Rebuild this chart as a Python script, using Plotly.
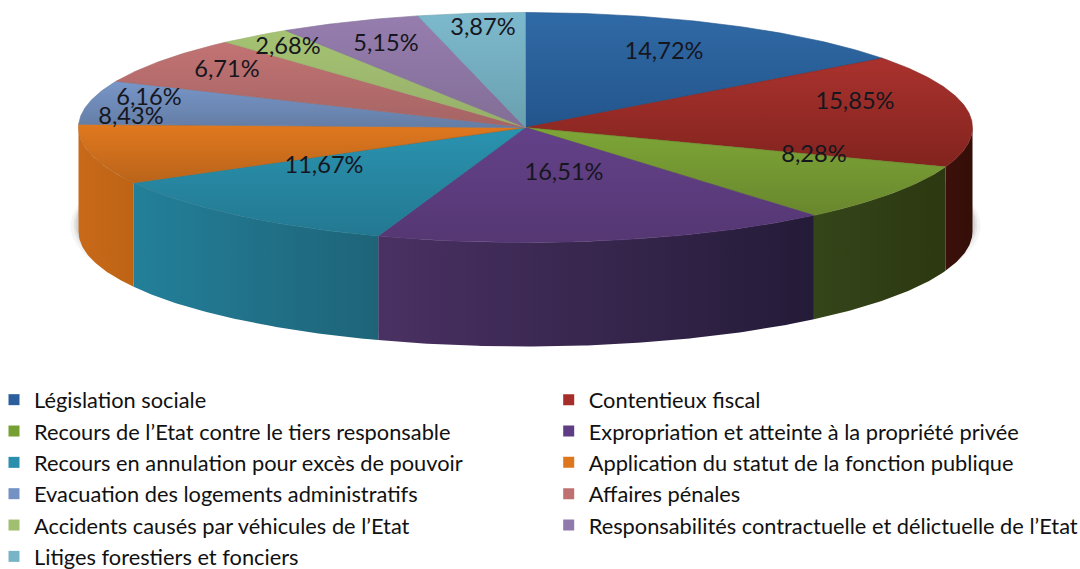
import numpy as np
import plotly.graph_objects as go

# ---- data ----
CATEGORIES = [
    "Législation sociale",
    "Contentieux fiscal",
    "Recours de l’Etat contre le tiers responsable",
    "Expropriation et atteinte à la propriété privée",
    "Recours en annulation pour excès de pouvoir",
    "Application du statut de la fonction publique",
    "Evacuation des logements administratifs",
    "Affaires pénales",
    "Accidents causés par véhicules de l’Etat",
    "Responsabilités contractuelle et délictuelle de l’Etat",
    "Litiges forestiers et fonciers",
]
VALUES = [14.72, 15.85, 8.28, 16.51, 11.67, 8.43, 6.16, 6.71, 2.68, 5.15, 3.87]
VALUE_LABELS = ["14,72%", "15,85%", "8,28%", "16,51%", "11,67%", "8,43%",
                "6,16%", "6,71%", "2,68%", "5,15%", "3,87%"]

# ---- styles ----
TOP_LIGHT = ["#306aa6", "#aa322e", "#7da637", "#644189", "#2a93b0", "#e1781e",
             "#7896c8", "#c37373", "#a5c373", "#967daf", "#7db9cd"]
TOP_DARK = ["#23558c", "#82231e", "#69872d", "#553773", "#237891", "#b9641a",
            "#647da5", "#a56464", "#96af69", "#826e96", "#69a0af"]
WALL_LEFT = {1: "#3c100b", 2: "#35451a", 3: "#4a3163", 4: "#237f99", 5: "#c9691a"}
WALL_RIGHT = {1: "#340e08", 2: "#2c3810", 3: "#241b38", 4: "#1e6478", 5: "#bd6414"}
LEGEND_COLORS = ["#2c5f9e", "#a52e2a", "#76a033", "#5f3d85", "#2a8fac", "#dd761d",
                 "#7391c3", "#bf7070", "#a0bf70", "#9079ab", "#78b4c8"]
LABEL_X = [664, 855, 814, 564, 324, 131, 149, 227, 288, 386, 483]
LABEL_Y = [53, 103, 156, 174, 167, 118, 99, 71, 48, 45, 29]

CX, CY, RX, RY, DEPTH = 525.5, 127.5, 447.0, 115.0, 104.0
W, H = 1080, 569


def arc(t0, t1):
    t = np.radians(np.linspace(t0, t1, max(int(abs(t1 - t0) * 2), 2) + 1))
    return CX + RX * np.sin(t), CY - RY * np.cos(t)


shares = np.array(VALUES) / np.sum(VALUES) * 360.0
edges = np.concatenate([[0.0], np.cumsum(shares)])

fig = go.Figure()

# soft shadow under the disc
for grow, alpha in [(8, 0.05), (5, 0.07), (3, 0.10)]:
    xs, ys = arc(0, 360)
    fig.add_trace(go.Scatter(
        x=CX + (xs - CX) * (RX + grow) / RX, y=ys + DEPTH - 8 + grow * 0.3,
        mode="lines", fill="toself", fillcolor=f"rgba(60,60,60,{alpha})",
        line=dict(width=0), hoverinfo="skip", showlegend=False))

# side wall
for i in WALL_LEFT:
    t0, t1 = max(edges[i], 90.0), min(edges[i + 1], 270.0)
    xs, ys = arc(t0, t1)
    fig.add_trace(go.Scatter(
        x=np.concatenate([xs, xs[::-1], xs[:1]]),
        y=np.concatenate([ys, ys[::-1] + DEPTH, ys[:1]]),
        mode="lines", fill="toself", line=dict(width=0),
        fillgradient=dict(type="horizontal",
                          colorscale=[[0, WALL_LEFT[i]], [1, WALL_RIGHT[i]]]),
        hoverinfo="skip", showlegend=False))

# top face
for i in range(len(VALUES)):
    xs, ys = arc(edges[i], edges[i + 1])
    fig.add_trace(go.Scatter(
        x=np.concatenate([[CX], xs, [CX]]), y=np.concatenate([[CY], ys, [CY]]),
        mode="lines", fill="toself", line=dict(width=0.6, color=TOP_DARK[i]),
        fillgradient=dict(type="vertical",
                          colorscale=[[0, TOP_DARK[i]], [1, TOP_LIGHT[i]]]),
        name=CATEGORIES[i], hovertemplate="%{fullData.name}<extra></extra>",
        showlegend=False))

# value labels
fig.add_trace(go.Scatter(
    x=LABEL_X, y=LABEL_Y, mode="text", text=VALUE_LABELS,
    textposition="middle center",
    textfont=dict(family="Lato", size=23.6, color="#16161e"),
    hoverinfo="skip", showlegend=False))

# legend entries: odd rows go to the left column, even rows to the right column
for k, (name, color) in enumerate(zip(CATEGORIES, LEGEND_COLORS)):
    fig.add_trace(go.Scatter(
        x=[None], y=[None], mode="markers", name=name,
        legend="legend" if k % 2 == 0 else "legend2",
        marker=dict(symbol="square", size=11, color=color)))

legend_common = dict(
    orientation="v", yanchor="top", xanchor="left", y=1 - 379 / H,
    traceorder="normal", maxheight=400, tracegroupgap=0,
    font=dict(family="Lato", size=21.8, color="#111111"),
    bgcolor="rgba(0,0,0,0)",
)
fig.update_layout(
    width=W, height=H,
    margin=dict(l=0, r=0, t=0, b=0, autoexpand=False),
    paper_bgcolor="white", plot_bgcolor="white",
    xaxis=dict(range=[0, W], visible=False, fixedrange=True),
    yaxis=dict(range=[H, 0], visible=False, fixedrange=True),
    legend=dict(x=-6 / W, **legend_common),
    legend2=dict(x=548.7 / W, **legend_common),
    showlegend=True,
)
fig.write_html(
    "out.html",
    config={"displayModeBar": False},
    post_script="document.body.style.margin='0';"
                "document.documentElement.style.overflow='hidden';",
)
